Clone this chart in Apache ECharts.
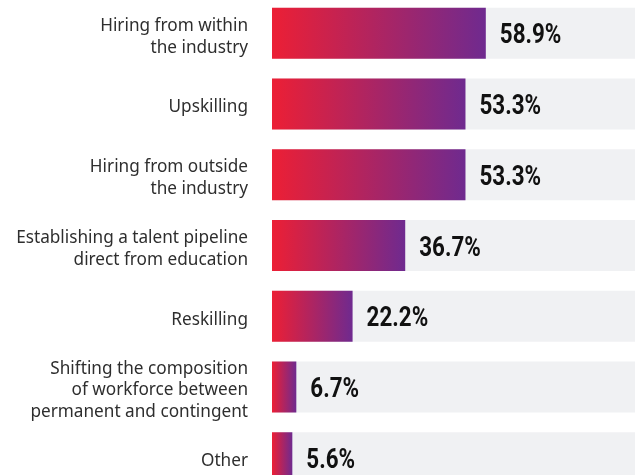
<!DOCTYPE html>
<html>
<head>
<meta charset="utf-8">
<style>
html,body{margin:0;padding:0;background:#fff;overflow:hidden;}
#chart{width:637px;height:500px;position:relative;top:-2px;}
</style>
<script src="https://cdn.jsdelivr.net/npm/echarts@6/dist/echarts.min.js"></script>
</head>
<body>
<div id="chart"></div>
<script>
const categories = [
  "Hiring from within\nthe industry",
  "Upskilling",
  "Hiring from outside\nthe industry",
  "Establishing a talent pipeline\ndirect from education",
  "Reskilling",
  "Shifting the composition\nof workforce between\npermanent and contingent",
  "Other"
];
const values = [58.9, 53.3, 53.3, 36.7, 22.2, 6.7, 5.6];

const chart = echarts.init(document.getElementById('chart'), null, {renderer: 'canvas'});
chart.setOption({
  animation: false,
  grid: {left: 272, right: 2, top: 0, height: 495, containLabel: false},
  xAxis: {type: 'value', min: 0, max: 100, show: false},
  yAxis: {
    type: 'category', inverse: true, data: categories,
    axisLine: {show: false}, axisTick: {show: false}, splitLine: {show: false},
    axisLabel: {show: false}
  },
  series: [{
    type: 'bar', data: values, barWidth: 51,
    showBackground: true,
    backgroundStyle: {color: '#f0f1f3'},
    itemStyle: {
      color: new echarts.graphic.LinearGradient(0, 0, 1, 0, [
        {offset: 0, color: '#ec1f35'},
        {offset: 1, color: '#6f2a8f'}
      ])
    },
    z: 2
  }, {
    type: 'custom',
    data: values.map((v, i) => [v, i]),
    renderItem: function (params, api) {
      const p = api.coord([api.value(0), api.value(1)]);
      return {
        type: 'text', x: p[0] + 14, y: p[1] + 3, scaleX: 0.8, z2: 10,
        style: {
          text: api.value(0).toFixed(1) + '%',
          font: 'bold 28px Roboto',
          fill: '#111', verticalAlign: 'middle', align: 'left'
        }
      };
    },
    z: 5
  }, {
    type: 'custom',
    data: categories.map((c, i) => [0, i]),
    renderItem: function (params, api) {
      const p = api.coord([0, api.value(1)]);
      return {
        type: 'text', x: p[0] - 24, y: p[1] + 3.5,
        style: {
          text: categories[params.dataIndex],
          font: '17.2px "Noto Sans"', lineHeight: 21.5,
          fill: '#2e2e2e', verticalAlign: 'middle', align: 'right'
        }
      };
    },
    z: 5
  }]
});
</script>
</body>
</html>
